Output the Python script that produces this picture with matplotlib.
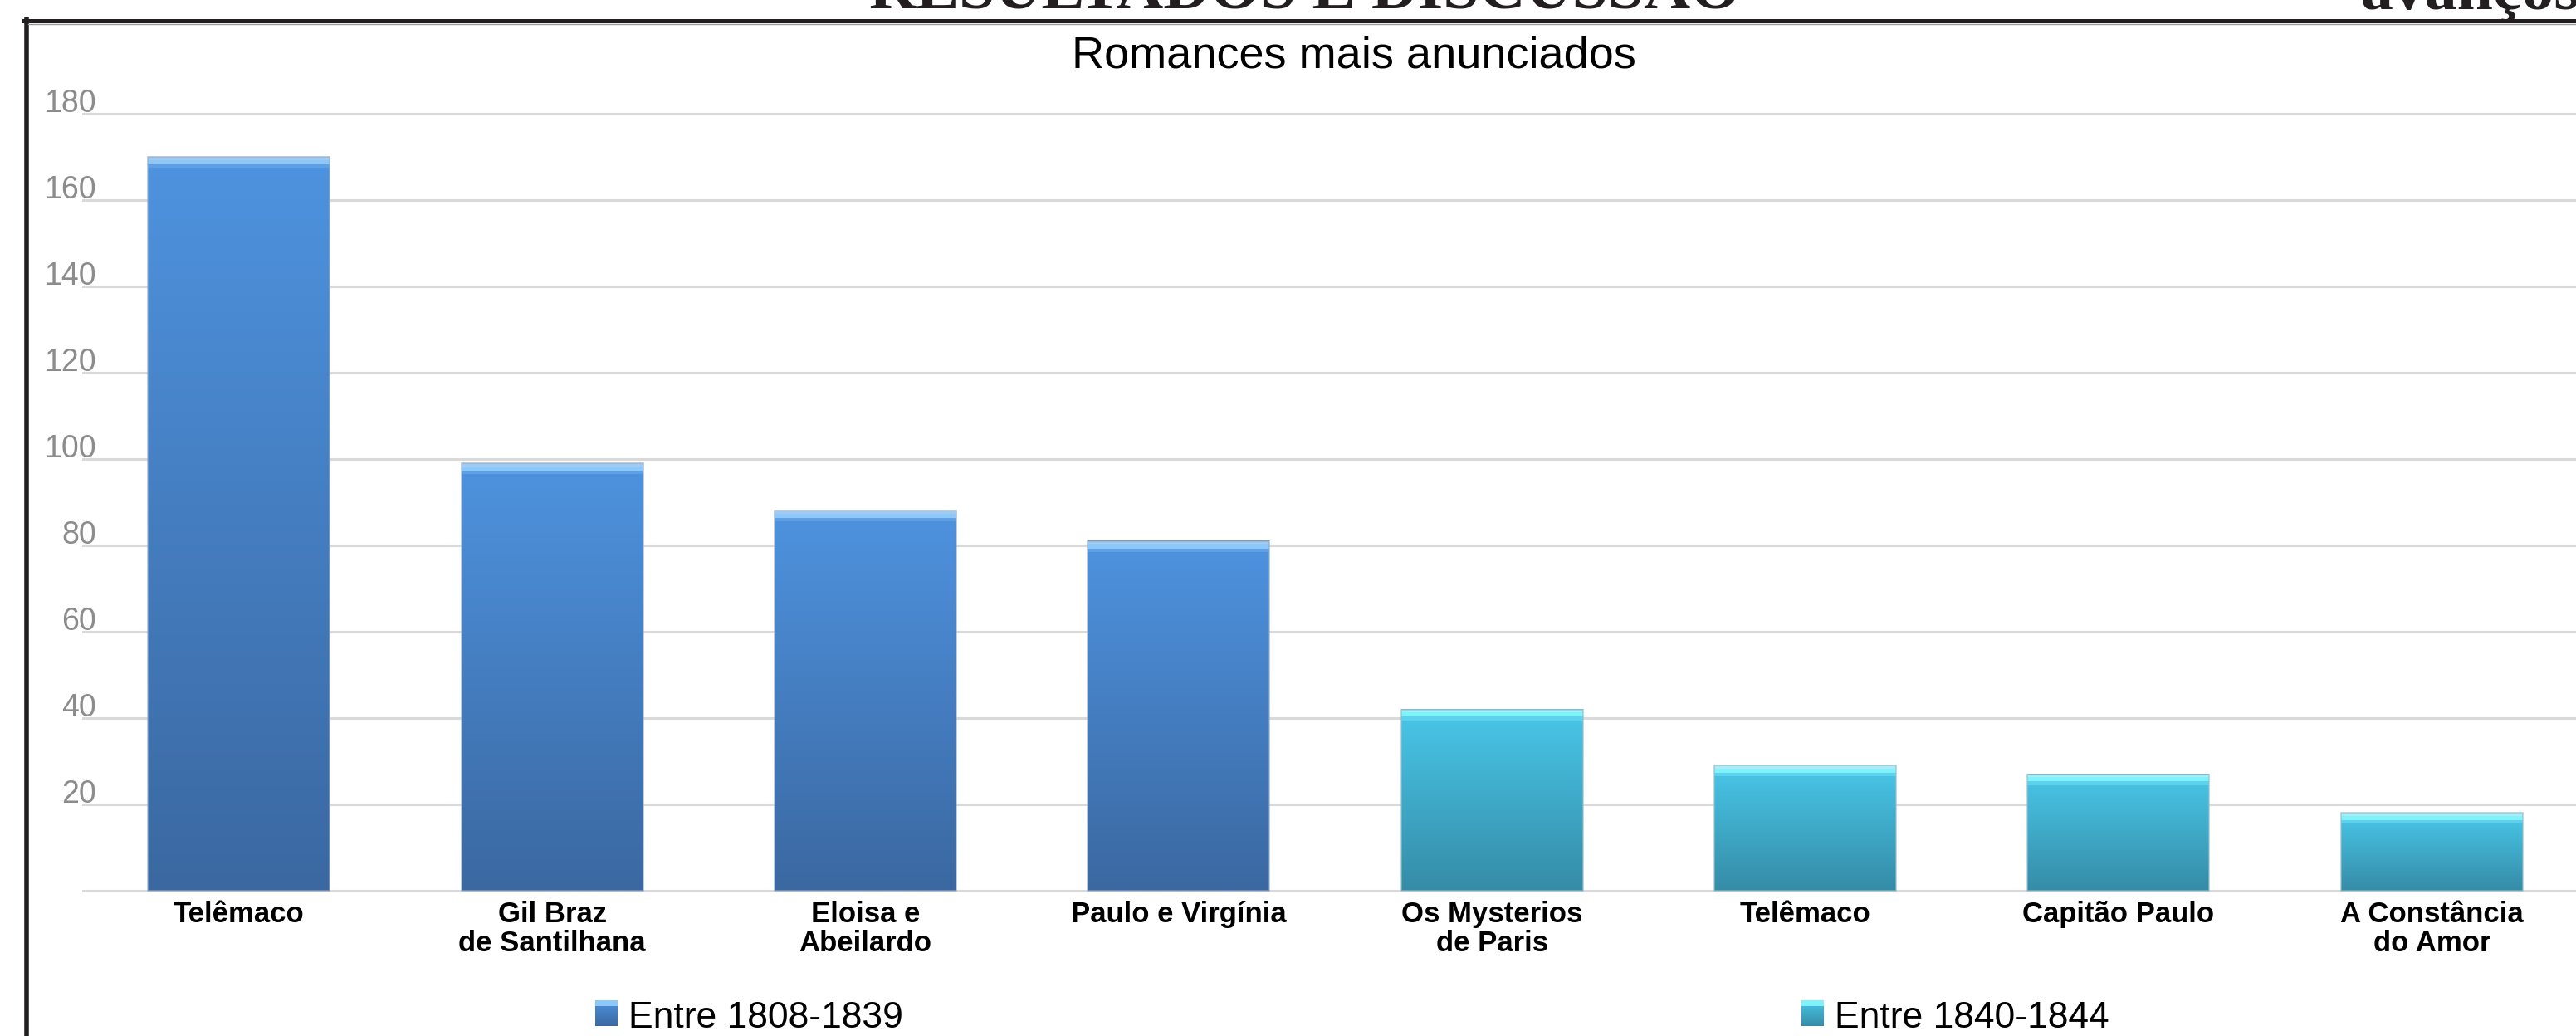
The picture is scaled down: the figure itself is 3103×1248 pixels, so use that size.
import matplotlib
matplotlib.use("Agg")
import matplotlib.pyplot as plt
import numpy as np
from matplotlib.colors import LinearSegmentedColormap
from matplotlib.lines import Line2D
from matplotlib.patches import Rectangle
from matplotlib.transforms import blended_transform_factory

plt.rcParams["font.family"] = ["Liberation Sans", "DejaVu Sans"]

W, H = 3103, 1248

TITLE = "Romances mais anunciados"
CATEGORIES = ["Telêmaco", "Gil Braz\nde Santilhana", "Eloisa e\nAbeilardo",
              "Paulo e Virgínia", "Os Mysterios\nde Paris", "Telêmaco",
              "Capitão Paulo", "A Constância\ndo Amor"]
VALUES = [170, 99, 88, 81, 42, 29, 27, 18]
SERIES = ["Entre 1808-1839", "Entre 1840-1844"]
SERIES_OF = [0, 0, 0, 0, 1, 1, 1, 1]
Y_TICKS = [0, 20, 40, 60, 80, 100, 120, 140, 160, 180]

# (top, bottom, band light, band bright, band mid)
STYLE = [
    ("#4e93df", "#3b68a1", "#a3c9f0", "#8cc8f8", "#5f9fe3"),
    ("#49c7e9", "#358ca7", "#aeeaf4", "#7ff3fc", "#5cd2ee"),
]

PX = 5.2  # pixels per unit on the y axis
YMIN, YMAX = -0.8, 181


def grad_cmap(s):
    return LinearSegmentedColormap.from_list("g%d" % s, [STYLE[s][1], STYLE[s][0]])


fig = plt.figure(figsize=(W / 100, H / 100), dpi=100)
bottom_px = 1073 + (-YMIN) * PX
ax = fig.add_axes([99 / W, 1 - bottom_px / H, 3019 / W, (YMAX - YMIN) * PX / H])

x = np.arange(len(VALUES))
bars = ax.bar(x, VALUES, width=0.58, color=[STYLE[s][0] for s in SERIES_OF],
              edgecolor="none", zorder=2)

grad = np.linspace(1, 0, 256).reshape(-1, 1)
for bar, s in zip(bars, SERIES_OF):
    x0, w, h = bar.get_x(), bar.get_width(), bar.get_height()
    ax.imshow(grad, extent=(x0, x0 + w, 0, h), aspect="auto", cmap=grad_cmap(s),
              vmin=0, vmax=1, zorder=3, interpolation="bilinear")
    # glossy band on top of the bar
    ax.add_patch(Rectangle((x0, h - 2.5), w, 0.8, color=STYLE[s][4], zorder=4, lw=0))
    ax.add_patch(Rectangle((x0, h - 1.7), w, 1.0, color=STYLE[s][3], zorder=4, lw=0))
    ax.add_patch(Rectangle((x0, h - 0.7), w, 0.7, color=STYLE[s][2], zorder=4, lw=0))
    # soft side edges
    ax.add_patch(Rectangle((x0, 0), w, h, fill=False, edgecolor="#8fa9c8" if s == 0 else "#8fbfcc",
                           lw=1.2, zorder=5, alpha=0.7))

ax.set_xlim(-0.5, len(VALUES) - 0.5)
ax.set_ylim(YMIN, YMAX)
ax.set_yticks(Y_TICKS)
ax.yaxis.grid(True, color="#d9d9d9", lw=2.2)
ax.set_axisbelow(True)
ax.tick_params(axis="y", left=False, labelleft=False)
for sp in ax.spines.values():
    sp.set_visible(False)

ax.set_xticks(x)
ax.set_xticklabels(CATEGORIES, fontsize=25, fontweight="bold", linespacing=1.05)
ax.tick_params(axis="x", length=0, pad=6)

trans = blended_transform_factory(ax.transAxes, ax.transData)
for t in Y_TICKS[1:]:
    ax.text(17 / 3019, t + 0.4, str(t), transform=trans, ha="right", va="baseline",
            fontsize=27, color="#8c8c8c")

fig.text(1631 / W, 1 - 81 / H, TITLE, ha="center", va="baseline", fontsize=39)

# legend
leg_x = [757, 2210]
for i, name in enumerate(SERIES):
    lx = leg_x[i]
    sq = fig.add_axes([(lx - 40) / W, 1 - 1236 / H, 27 / W, 31 / H])
    sq.imshow(grad, extent=(0, 1, 0, 1), aspect="auto", cmap=grad_cmap(i), vmin=0, vmax=1)
    sq.add_patch(Rectangle((0, 0.78), 1, 0.22, color=STYLE[i][3], lw=0))
    sq.set_xlim(0, 1)
    sq.set_ylim(0, 1)
    sq.axis("off")
    fig.text(lx / W, 1 - 1238 / H, name, ha="left", va="baseline", fontsize=32)

# frame of the page figure
fig.add_artist(Line2D([31.5 / W, 31.5 / W], [0, 1 - 23 / H], color="#231f20", lw=4,
                      transform=fig.transFigure))
fig.add_artist(Line2D([29 / W, 1], [1 - 25 / H, 1 - 25 / H], color="#231f20", lw=3.6,
                      transform=fig.transFigure))
fig.add_artist(Line2D([34 / W, 1], [1 - 28.5 / H, 1 - 28.5 / H], color="#9a9a9a", lw=1,
                      transform=fig.transFigure))

# running header of the page, cut off at the top
fig.text(1572 / W, 1 - 10 / H, "RESULTADOS E DISCUSSÃO", ha="center", va="baseline",
         fontsize=56, fontweight="bold", family="Liberation Serif", color="#231f20")
fig.text(2843 / W, 1 - 10 / H, "avanços", ha="left", va="baseline",
         fontsize=56, fontweight="bold", family="Liberation Serif", color="#231f20")

fig.savefig("out.png", dpi=100)
